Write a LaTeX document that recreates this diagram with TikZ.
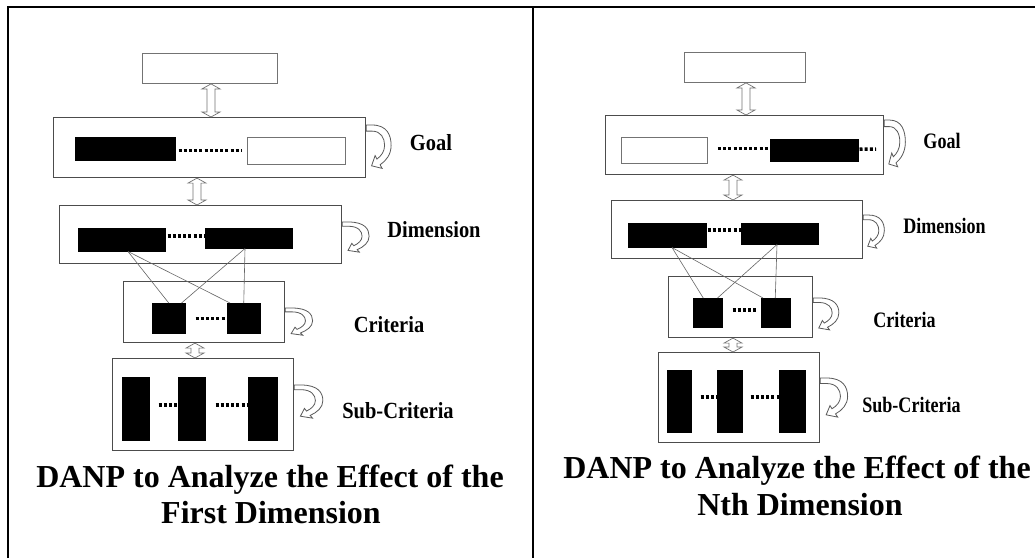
\documentclass[tikz,border=0pt]{standalone}
\usepackage{fontspec}
\setmainfont{Liberation Serif}
\usetikzlibrary{calc}
\tikzset{
  frame/.style={draw=black!70, line width=1.1pt, fill=white, inner sep=0, anchor=north west},
  blk/.style={fill=black, draw=black, line width=0.5pt, inner sep=0, anchor=north west},
  wbox/.style={draw=black!55, line width=0.9pt, fill=white, inner sep=0, anchor=north west},
  dots/.style={line width=3.5pt, dash pattern=on 3pt off 2.2pt, black},
  link/.style={draw=black!60, line width=0.6pt},
  dbl/.style={draw=black!55, line width=0.7pt, fill=white},
  lbl/.style={font=\bfseries\fontsize{22}{24}\selectfont, inner sep=0},
  lblr/.style={font=\bfseries\fontsize{21}{24}\selectfont, inner sep=0},
  ttl/.style={font=\bfseries\fontsize{32}{36}\selectfont, inner sep=0, anchor=base},
  border/.style={line width=2pt, black},
  pics/loopar/.style={code={
    \path[draw=black!65, line width=0.8pt, fill=white]
      (0,0) -- (6,0) .. controls (21,0) and (25,10) .. (25,20)
      .. controls (25,29) and (20,35) .. (14,39) -- (16,42.5) -- (5.5,40)
      -- (9,30) -- (10.8,33.4) .. controls (15,30.5) and (18.5,26) .. (18.5,20)
      .. controls (18.5,13) and (15,6) .. (6,6) -- (0,6) -- cycle;
  }}
}
\newcommand\vdblarrow[2]{\path[dbl] let \p1=(#1), \p2=(#2) in
  (\p1) -- (\x1+9pt,\y1-5pt) -- (\x1+4pt,\y1-5pt) -- (\x1+4pt,\y2+5pt)
  -- (\x1+9pt,\y2+5pt) -- (\x1,\y2) -- (\x1-9pt,\y2+5pt) -- (\x1-4pt,\y2+5pt)
  -- (\x1-4pt,\y1-5pt) -- (\x1-9pt,\y1-5pt) -- cycle;}
\begin{document}
\begin{tikzpicture}[x=1pt,y=-1pt]
\useasboundingbox (0,0) rectangle (1035,558);
\fill[white] (0,0) rectangle (1035,558);
% frame
\draw[border] (8,558) -- (8,7) -- (1035,7);
\draw[border] (533,7) -- (533,558);

% ================= LEFT PANEL =================
\node[wbox, minimum width=135pt, minimum height=30pt] (t1) at (142,53) {};
\node[frame, minimum width=312pt, minimum height=60pt] (g1) at (53,117) {};
\node[blk, minimum width=100pt, minimum height=23pt] (g1a) at (75,137) {};
\node[wbox, minimum width=98pt, minimum height=27pt] (g1b) at (247,137) {};
\draw[dots] ($(g1a.east)+(3,1.5)$) -- ($(g1a.east -| g1b.west)+(-5,1.5)$);

\node[frame, minimum width=282pt, minimum height=58pt] (d1) at (59,205) {};
\node[blk, minimum width=87pt, minimum height=23pt] (d1a) at (78,228) {};
\node[blk, minimum width=87pt, minimum height=20pt] (d1b) at (205,228) {};
\draw[dots] ($(d1a.north east)+(2,8)$) -- ($(d1a.north east -| d1b.west)+(0,8)$);

\node[frame, minimum width=161pt, minimum height=61pt] (c1) at (123,281) {};
\node[blk, minimum width=33pt, minimum height=30pt] (c1a) at (152,303) {};
\node[blk, minimum width=33pt, minimum height=30pt] (c1b) at (227,303) {};
\draw[dots] ($(c1a.east)+(10,0)$) -- ($(c1b.west)+(-2,0)$);

\node[frame, minimum width=181pt, minimum height=92pt] (s1) at (112,358) {};
\node[blk, minimum width=27pt, minimum height=63pt] (s1a) at (122,377) {};
\node[blk, minimum width=27pt, minimum height=63pt] (s1b) at (178,377) {};
\node[blk, minimum width=29pt, minimum height=63pt] (s1c) at (248,377) {};
\draw[dots] ($(s1a.north east)+(9,28)$) -- ($(s1a.north east -| s1b.west)+(0,28)$);
\draw[dots] ($(s1b.north east)+(10,28)$) -- ($(s1b.north east -| s1c.west)+(0,28)$);

% links dimension -> criteria
\coordinate (l1p) at ($(d1a.south west)+(50,0)$);
\coordinate (l1q) at ($(d1b.south west)+(40,0)$);
\draw[link] (l1p) -- (c1a.north);
\draw[link] (l1p) -- ($(c1b.north west)+(3,0)$);
\draw[link] (l1q) -- ($(c1a.north east)+(-4,0)$);
\draw[link] (l1q) -- (c1b.north);

% double arrows
\coordinate (ax1) at (211,0);
\coordinate (ax2) at (197,0);
\coordinate (ax3) at (195,0);
\vdblarrow{t1.south -| ax1}{g1.north -| ax1}
\vdblarrow{g1.south -| ax2}{d1.north -| ax2}
\vdblarrow{c1.south -| ax3}{s1.north -| ax3}

% loops
\pic[xscale=1.0, yscale=1.02] at ($(g1.north east)+(0,8)$) {loopar};
\pic[xscale=1.08, yscale=0.71] at ($(d1.north east)+(0,17)$) {loopar};
\pic[xscale=1.1, yscale=0.64] at ($(c1.north east)+(0,27)$) {loopar};
\pic[xscale=1.15, yscale=0.78] at ($(s1.north east)+(0,27)$) {loopar};

% labels
\node[lbl] (lg1) at (431,143) {\scalebox{0.93}[1.05]{Goal}};
\node[lbl] (ld1) at (434,230) {\scalebox{0.93}[1.05]{Dimension}};
\node[lbl] (lc1) at (389,325) {\scalebox{0.93}[1.05]{Criteria}};
\node[lbl] (ls1) at (398,411) {\scalebox{0.93}[1.05]{Sub-Criteria}};

\node[ttl] (tt1a) at (270,487) {DANP to Analyze the Effect of the};
\node[ttl] (tt1b) at (271,523) {First Dimension};

% ================= RIGHT PANEL =================
\node[wbox, minimum width=121pt, minimum height=30pt] (t2) at (684,52) {};
\node[frame, minimum width=278pt, minimum height=59pt] (g2) at (605,115) {};
\node[wbox, minimum width=86pt, minimum height=26pt] (g2a) at (621,137) {};
\node[blk, minimum width=88pt, minimum height=22pt] (g2b) at (770,139) {};
\coordinate (g2end) at (876,149);
\draw[dots] ($(g2a.east)+(10,-2)$) -- ($(g2a.east -| g2b.west)+(0,-2)$);
\draw[dots] ($(g2b.east)+(1,-1)$) -- (g2end);

\node[frame, minimum width=251pt, minimum height=58pt] (d2) at (611,200) {};
\node[blk, minimum width=78pt, minimum height=24pt] (d2a) at (628,223) {};
\node[blk, minimum width=77pt, minimum height=21pt] (d2b) at (741,223) {};
\draw[dots] ($(d2a.north east)+(1,7)$) -- ($(d2a.north east -| d2b.west)+(0,7)$);

\node[frame, minimum width=144pt, minimum height=61pt] (c2) at (668,276) {};
\node[blk, minimum width=29pt, minimum height=29pt] (c2a) at (693,298) {};
\node[blk, minimum width=29pt, minimum height=29pt] (c2b) at (761,298) {};
\draw[dots] ($(c2a.north east)+(10,12)$) -- ($(c2a.north east -| c2b.west)+(-3,12)$);

\node[frame, minimum width=161pt, minimum height=90pt] (s2) at (658,352) {};
\node[blk, minimum width=24pt, minimum height=62pt] (s2a) at (667,370) {};
\node[blk, minimum width=25pt, minimum height=62pt] (s2b) at (717,370) {};
\node[blk, minimum width=26pt, minimum height=62pt] (s2c) at (779,370) {};
\draw[dots] ($(s2a.north east)+(9,27)$) -- ($(s2a.north east -| s2b.west)+(0,27)$);
\draw[dots] ($(s2b.north east)+(8,27)$) -- ($(s2b.north east -| s2c.west)+(0,27)$);

% links
\coordinate (l2p) at ($(d2a.south west)+(44,0)$);
\coordinate (l2q) at ($(d2b.south west)+(36,0)$);
\draw[link] (l2p) -- ($(c2a.north)+(-4.5,0)$);
\draw[link] (l2p) -- ($(c2b.north west)+(2,0)$);
\draw[link] (l2q) -- ($(c2a.north east)+(-5,0)$);
\draw[link] (l2q) -- ($(c2b.north)+(-0.5,0)$);

% double arrows
\coordinate (bx1) at (746,0);
\coordinate (bx2) at (733,0);
\coordinate (bx3) at (733,0);
\vdblarrow{t2.south -| bx1}{g2.north -| bx1}
\vdblarrow{g2.south -| bx2}{d2.north -| bx2}
\vdblarrow{c2.south -| bx3}{s2.north -| bx3}

% loops
\pic[xscale=0.85, yscale=1.1] at ($(g2.north east)+(0,5)$) {loopar};
\pic[xscale=0.85, yscale=0.78] at ($(d2.north east)+(0,15)$) {loopar};
\pic[xscale=1.03, yscale=0.75] at ($(c2.north east)+(0,22)$) {loopar};
\pic[xscale=1.1, yscale=0.92] at ($(s2.north east)+(0,26)$) {loopar};

% labels
\node[lblr] (lg2) at (942,141) {\scalebox{0.86}[1.05]{Goal}};
\node[lblr] (ld2) at (944.5,226) {\scalebox{0.86}[1.05]{Dimension}};
\node[lblr] (lc2) at (904.5,320) {\scalebox{0.86}[1.05]{Criteria}};
\node[lblr] (ls2) at (911.5,405) {\scalebox{0.86}[1.05]{Sub-Criteria}};

\node[ttl] (tt2a) at (797,478) {DANP to Analyze the Effect of the};
\node[ttl] (tt2b) at (800,515) {Nth Dimension};
\end{tikzpicture}
\end{document}
